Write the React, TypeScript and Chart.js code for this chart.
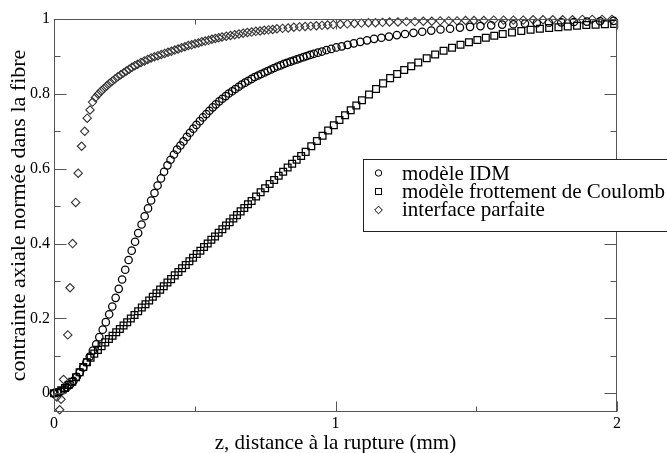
import React, { useEffect, useRef } from 'react';
import { Chart, registerables } from 'chart.js';

Chart.register(...registerables);

// ---- data ----
const idmZ = [
  0, 0.012, 0.023, 0.035, 0.046, 0.058, 0.069, 0.081, 0.092, 0.104,
  0.115, 0.127, 0.138, 0.150, 0.161, 0.173, 0.184, 0.196, 0.207, 0.219,
  0.230, 0.242, 0.253, 0.265, 0.276, 0.288, 0.299, 0.311, 0.322, 0.334,
  0.345, 0.357, 0.368, 0.380, 0.391, 0.403, 0.414, 0.426, 0.437, 0.449,
  0.460, 0.472, 0.483, 0.495, 0.506, 0.518, 0.529, 0.541, 0.552, 0.564,
  0.575, 0.587, 0.598, 0.610, 0.621, 0.633, 0.644, 0.656, 0.667, 0.679,
  0.690, 0.702, 0.713, 0.725, 0.736, 0.748, 0.759, 0.771, 0.782, 0.794,
  0.805, 0.817, 0.828, 0.840, 0.851, 0.863, 0.874, 0.886, 0.898, 0.910,
  0.923, 0.937, 0.952, 0.968, 0.985, 1.003, 1.022, 1.043, 1.065, 1.088,
  1.112, 1.137, 1.163, 1.190, 1.218, 1.247, 1.277, 1.308, 1.340, 1.373,
  1.407, 1.442, 1.478, 1.515, 1.553, 1.592, 1.632, 1.673, 1.715, 1.758,
  1.802, 1.847, 1.893, 1.940, 1.988,
];
const idmSigma = [
  0.000, 0.002, 0.005, 0.010, 0.016, 0.024, 0.033, 0.044, 0.056, 0.069,
  0.083, 0.098, 0.114, 0.131, 0.150, 0.170, 0.190, 0.211, 0.232, 0.255,
  0.279, 0.304, 0.330, 0.356, 0.381, 0.405, 0.428, 0.451, 0.473, 0.494,
  0.515, 0.535, 0.555, 0.574, 0.592, 0.609, 0.624, 0.638, 0.651, 0.662,
  0.673, 0.685, 0.696, 0.707, 0.717, 0.727, 0.737, 0.746, 0.755, 0.764,
  0.772, 0.780, 0.787, 0.794, 0.801, 0.807, 0.813, 0.819, 0.825, 0.830,
  0.835, 0.840, 0.845, 0.849, 0.853, 0.857, 0.861, 0.865, 0.869, 0.873,
  0.876, 0.880, 0.883, 0.886, 0.889, 0.892, 0.895, 0.898, 0.901, 0.904,
  0.907, 0.910, 0.913, 0.917, 0.920, 0.924, 0.927, 0.931, 0.935, 0.939,
  0.943, 0.947, 0.950, 0.953, 0.957, 0.960, 0.963, 0.966, 0.969, 0.972,
  0.974, 0.977, 0.979, 0.981, 0.983, 0.985, 0.986, 0.988, 0.989, 0.990,
  0.991, 0.992, 0.993, 0.994, 0.995,
];

const coulombZ = [
  0, 0.013, 0.026, 0.039, 0.052, 0.065, 0.078, 0.091, 0.104, 0.117,
  0.130, 0.143, 0.156, 0.169, 0.182, 0.195, 0.208, 0.221, 0.234, 0.247,
  0.260, 0.273, 0.286, 0.299, 0.312, 0.325, 0.338, 0.351, 0.364, 0.377,
  0.390, 0.403, 0.416, 0.429, 0.442, 0.455, 0.468, 0.481, 0.494, 0.507,
  0.520, 0.533, 0.546, 0.559, 0.572, 0.585, 0.598, 0.611, 0.624, 0.637,
  0.650, 0.663, 0.676, 0.689, 0.702, 0.718, 0.734, 0.750, 0.766, 0.782,
  0.798, 0.814, 0.830, 0.846, 0.862, 0.878, 0.894, 0.914, 0.934, 0.954,
  0.974, 0.994, 1.014, 1.034, 1.054, 1.074, 1.094, 1.119, 1.144, 1.169,
  1.194, 1.219, 1.244, 1.269, 1.294, 1.324, 1.354, 1.384, 1.414, 1.444,
  1.474, 1.504, 1.534, 1.564, 1.594, 1.627, 1.660, 1.693, 1.726, 1.759,
  1.792, 1.825, 1.858, 1.891, 1.924, 1.957, 1.990,
];
const coulombSigma = [
  0.000, 0.003, 0.008, 0.014, 0.022, 0.031, 0.043, 0.056, 0.070, 0.083,
  0.095, 0.106, 0.116, 0.126, 0.136, 0.145, 0.154, 0.163, 0.172, 0.181,
  0.190, 0.200, 0.209, 0.219, 0.229, 0.238, 0.248, 0.258, 0.267, 0.277,
  0.286, 0.296, 0.305, 0.315, 0.324, 0.334, 0.343, 0.353, 0.362, 0.372,
  0.381, 0.391, 0.400, 0.410, 0.419, 0.429, 0.438, 0.448, 0.457, 0.467,
  0.476, 0.486, 0.495, 0.505, 0.514, 0.526, 0.537, 0.548, 0.559, 0.570,
  0.581, 0.592, 0.603, 0.613, 0.624, 0.634, 0.645, 0.660, 0.674, 0.688,
  0.702, 0.716, 0.730, 0.743, 0.756, 0.769, 0.783, 0.798, 0.813, 0.828,
  0.842, 0.853, 0.864, 0.874, 0.884, 0.895, 0.905, 0.915, 0.923, 0.931,
  0.938, 0.944, 0.950, 0.955, 0.960, 0.964, 0.968, 0.971, 0.974, 0.976,
  0.978, 0.980, 0.982, 0.984, 0.985, 0.986, 0.987,
];

const parfaiteZ = [
  0, 0.010, 0.020, 0.025, 0.034, 0.049, 0.057, 0.066, 0.077, 0.086,
  0.098, 0.109, 0.118, 0.128, 0.137, 0.147, 0.157, 0.167, 0.177, 0.187,
  0.197, 0.207, 0.217, 0.227, 0.237, 0.247, 0.257, 0.267, 0.277, 0.287,
  0.297, 0.309, 0.321, 0.333, 0.345, 0.357, 0.369, 0.381, 0.393, 0.405,
  0.417, 0.429, 0.441, 0.453, 0.465, 0.477, 0.489, 0.501, 0.513, 0.525,
  0.537, 0.549, 0.561, 0.573, 0.585, 0.597, 0.612, 0.627, 0.642, 0.657,
  0.672, 0.687, 0.702, 0.717, 0.732, 0.747, 0.762, 0.777, 0.792, 0.812,
  0.832, 0.852, 0.872, 0.892, 0.912, 0.932, 0.952, 0.972, 0.992, 1.017,
  1.042, 1.067, 1.092, 1.117, 1.142, 1.167, 1.192, 1.222, 1.252, 1.282,
  1.312, 1.342, 1.372, 1.402, 1.432, 1.462, 1.492, 1.527, 1.562, 1.597,
  1.632, 1.667, 1.702, 1.737, 1.772, 1.807, 1.842, 1.877, 1.912, 1.947,
  1.982,
];
const parfaiteSigma = [
  0.000, -0.010, -0.044, -0.016, 0.037, 0.156, 0.282, 0.400, 0.510, 0.588,
  0.660, 0.700, 0.735, 0.757, 0.778, 0.790, 0.799, 0.807, 0.814, 0.821,
  0.828, 0.834, 0.840, 0.846, 0.851, 0.856, 0.861, 0.866, 0.871, 0.875,
  0.879, 0.884, 0.888, 0.892, 0.896, 0.899, 0.902, 0.905, 0.908, 0.911,
  0.914, 0.917, 0.920, 0.923, 0.926, 0.929, 0.931, 0.934, 0.936, 0.939,
  0.941, 0.943, 0.946, 0.948, 0.950, 0.952, 0.954, 0.956, 0.958, 0.960,
  0.962, 0.964, 0.965, 0.967, 0.968, 0.970, 0.971, 0.972, 0.974, 0.975,
  0.976, 0.978, 0.979, 0.980, 0.981, 0.982, 0.983, 0.984, 0.985, 0.986,
  0.987, 0.988, 0.989, 0.990, 0.990, 0.991, 0.992, 0.992, 0.993, 0.993,
  0.994, 0.994, 0.995, 0.995, 0.995, 0.996, 0.996, 0.996, 0.997, 0.997,
  0.997, 0.997, 0.998, 0.998, 0.998, 0.998, 0.998, 0.999, 0.999, 0.999,
  0.999,
];

const seriesLabels = ['modèle IDM', 'modèle frottement de Coulomb', 'interface parfaite'];
const xTickValues = [0, 1, 2];
const xTickLabels = ['0', '1', '2'];
const xMinorTicks = [0.5, 1.5];
const yTickValues = [0, 0.2, 0.4, 0.6, 0.8, 1];
const yTickLabels = ['0', '0.2', '0.4', '0.6', '0.8', '1'];
const yMinorTicks = [0.1, 0.3, 0.5, 0.7, 0.9];
const xTitle = 'z, distance à la rupture (mm)';
const yTitle = 'contrainte axiale normée dans la fibre';

const FONT = "'Liberation Serif', 'Times New Roman', serif";
const INK = '#000';
const FRAME = '#555';

function toPoints(xs: number[], ys: number[]) {
  return xs.map((x, i) => ({ x, y: ys[i] }));
}

const framePlugin = {
  id: 'frameAndLegend',
  afterDraw(chart: any) {
    const { ctx, chartArea: a, scales } = chart;
    const xs = scales.x;
    const ys = scales.y;
    ctx.save();
    ctx.strokeStyle = FRAME;
    ctx.lineWidth = 1;
    const L = Math.round(a.left) + 0.5;
    const R = Math.round(a.right) - 0.5;
    const T = Math.round(a.top) + 0.5;
    const B = Math.round(a.bottom) - 0.5;
    ctx.strokeRect(L, T, R - L, B - T);
    ctx.beginPath();
    const vTick = (v: number, len: number) => {
      const p = Math.round(xs.getPixelForValue(v)) + 0.5;
      ctx.moveTo(p, B); ctx.lineTo(p, B - len);
      ctx.moveTo(p, T); ctx.lineTo(p, T + len);
    };
    const hTick = (v: number, len: number) => {
      const p = Math.round(ys.getPixelForValue(v)) + 0.5;
      ctx.moveTo(L, p); ctx.lineTo(L + len, p);
      ctx.moveTo(R, p); ctx.lineTo(R - len, p);
    };
    xTickValues.forEach((v) => vTick(v, 10));
    xMinorTicks.forEach((v) => vTick(v, 5));
    yTickValues.forEach((v) => hTick(v, 12));
    yMinorTicks.forEach((v) => hTick(v, 6));
    ctx.stroke();

    // legend box
    const bx = 363.5, by = 159.5, bw = 330, bh = 72;
    ctx.fillStyle = '#fff';
    ctx.fillRect(bx, by, bw, bh);
    ctx.strokeStyle = '#222';
    ctx.strokeRect(bx, by, bw, bh);
    const symX = 378.5;
    const rowY = [173, 191.5, 210];
    const baseY = [179.5, 197.5, 215.5];
    ctx.strokeStyle = INK;
    ctx.lineWidth = 1;
    ctx.beginPath();
    ctx.arc(symX, rowY[0], 3.2, 0, Math.PI * 2);
    ctx.stroke();
    ctx.strokeRect(symX - 3, rowY[1] - 3, 6, 6);
    ctx.beginPath();
    ctx.moveTo(symX - 3.8, rowY[2]);
    ctx.lineTo(symX, rowY[2] - 3.8);
    ctx.lineTo(symX + 3.8, rowY[2]);
    ctx.lineTo(symX, rowY[2] + 3.8);
    ctx.closePath();
    ctx.stroke();
    ctx.fillStyle = INK;
    ctx.font = `21px ${FONT}`;
    ctx.textBaseline = 'alphabetic';
    ctx.textAlign = 'left';
    seriesLabels.forEach((t, i) => ctx.fillText(t, 402, baseY[i]));
    ctx.restore();
  },
};

export default function App() {
  const ref = useRef<HTMLCanvasElement | null>(null);
  useEffect(() => {
    if (!ref.current) return;
    Chart.defaults.font.family = FONT;
    const chart = new Chart(ref.current, {
      type: 'scatter',
      data: {
        datasets: [
          {
            label: seriesLabels[0],
            data: toPoints(idmZ, idmSigma),
            pointStyle: 'circle',
            pointRadius: 3.7,
            borderColor: INK,
            backgroundColor: 'rgba(0,0,0,0)',
            pointBorderWidth: 1.25,
            showLine: false,
            clip: false as any,
          },
          {
            label: seriesLabels[1],
            data: toPoints(coulombZ, coulombSigma),
            pointStyle: 'rect',
            pointRadius: 4.8,
            borderColor: INK,
            backgroundColor: 'rgba(0,0,0,0)',
            pointBorderWidth: 1.25,
            showLine: false,
            clip: false as any,
          },
          {
            label: seriesLabels[2],
            data: toPoints(parfaiteZ, parfaiteSigma),
            pointStyle: 'rectRot',
            pointRadius: 4.2,
            borderColor: '#333',
            backgroundColor: 'rgba(0,0,0,0)',
            pointBorderWidth: 1.1,
            showLine: false,
            clip: false as any,
          },
        ],
      },
      options: {
        animation: false,
        responsive: false,
        events: [],
        layout: { padding: { left: 0, top: 19, right: 50, bottom: 0 } },
        plugins: { legend: { display: false }, tooltip: { enabled: false } },
        scales: {
          x: {
            type: 'linear',
            min: 0,
            max: 2,
            grid: { display: false, drawTicks: false },
            border: { display: false },
            afterBuildTicks: (s: any) => { s.ticks = xTickValues.map((value) => ({ value })); },
            afterFit: (s: any) => { s.height = 41; },
            ticks: {
              padding: 2,
              color: INK,
              font: { size: 16, family: FONT },
              maxRotation: 0,
              callback: (v: any) => xTickLabels[xTickValues.indexOf(Number(v))] ?? '',
            },
            title: {
              display: true,
              text: xTitle,
              color: INK,
              font: { size: 21, family: FONT, lineHeight: 0.95 },
              padding: { top: 0, bottom: 0 },
            },
          },
          y: {
            type: 'linear',
            min: -0.05,
            max: 1,
            grid: { display: false, drawTicks: false },
            border: { display: false },
            afterBuildTicks: (s: any) => { s.ticks = yTickValues.map((value) => ({ value })); },
            afterFit: (s: any) => { s.width = 54; },
            ticks: {
              padding: 4,
              color: INK,
              font: { size: 16, family: FONT },
              callback: (v: any) => {
                const i = yTickValues.findIndex((t) => Math.abs(t - Number(v)) < 1e-9);
                return i >= 0 ? yTickLabels[i] : '';
              },
            },
            title: {
              display: true,
              text: yTitle,
              color: INK,
              font: { size: 22, family: FONT },
              padding: { top: 6, bottom: 0 },
            },
          },
        },
      },
      plugins: [framePlugin],
    });
    return () => chart.destroy();
  }, []);
  return (
    <div style={{ position: 'fixed', left: 0, top: 0, width: 667, height: 453, background: '#fff' }}>
      <canvas ref={ref} width={667} height={453} style={{ display: 'block' }} />
    </div>
  );
}
